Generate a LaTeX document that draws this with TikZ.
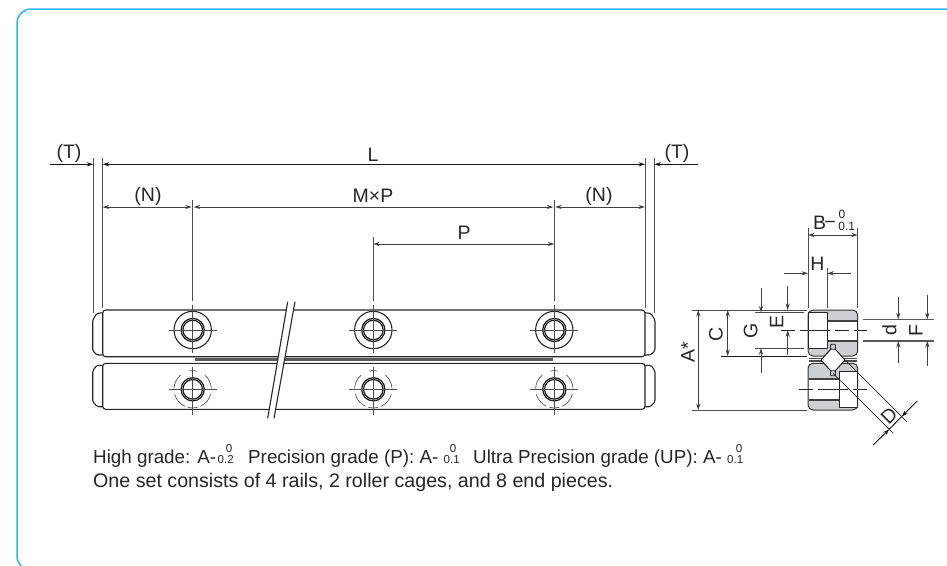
\documentclass[tikz,border=0pt]{standalone}
\usepackage{fontspec}
\setmainfont{Liberation Sans}
\usetikzlibrary{arrows.meta}
\definecolor{framecyan}{RGB}{41,182,236}
\definecolor{blockgray}{RGB}{205,207,209}
\newcommand{\bigtxt}{\fontsize{19.5}{22}\selectfont}
\newcommand{\smalltxt}{\fontsize{12}{14}\selectfont}
\begin{document}
\begin{tikzpicture}[x=1pt,y=-1pt,font=\bigtxt,line join=round,>={Stealth[length=6.5pt,width=4.2pt]}]
	\tikzset{every node/.style={inner sep=0pt,text=black!85},
		dimline/.style={black!75,line width=0.9pt},
		extline/.style={black!70,line width=0.75pt},
		railline/.style={black!85,line width=1.1pt},
		holeline/.style={black!70,line width=0.65pt},
		centerline/.style={black!85,line width=0.7pt,dash pattern=on 14pt off 5pt on 30pt off 5pt}}
	\useasboundingbox (0,0) rectangle (947,565);
	\begin{scope}
		\clip (0,0) rectangle (947,565);
		\draw[framecyan,line width=1.5pt,rounded corners=14pt] (17,9) rectangle (970,570);
	\end{scope}
	% rails and end pieces
	\draw[railline,rounded corners=3pt] (102.7,310) rectangle (645,356.7);
	\draw[railline,rounded corners=3pt] (102.7,363.3) rectangle (645,409.3);
	\draw[black!65,line width=2.6pt] (195,359.7)--(552.7,359.7);
	\foreach \ex/\sx in {102.7/-1,645/1}{
		\draw[railline,rounded corners=1.5pt] (\ex,312.7)--({\ex+\sx*6},313.5)--({\ex+\sx*10},320)--({\ex+\sx*10},350.7)--({\ex+\sx*5.4},355)--(\ex,355);
		\draw[railline,rounded corners=1.5pt] (\ex,365.3)--({\ex+\sx*6},365.3)--({\ex+\sx*10},371)--({\ex+\sx*10},401.7)--({\ex+\sx*5.4},406.7)--(\ex,406.7);
	}
	% mounting holes
	\foreach \hx in {192.7,373.3,554.3}{
		\draw[railline] (\hx,330) circle (18.7);
		\draw[black!90,line width=1.2pt] (\hx,330) circle (11.6);
		\draw[black!90,line width=1.2pt] (\hx,330) circle (9.8);
		\draw[holeline] (\hx-24,330)--(\hx+24,330);
		\draw[holeline] (\hx,305)--(\hx,352.7);
		\draw[black!90,line width=1.2pt] (\hx,389.3) circle (11.6);
		\draw[black!90,line width=1.2pt] (\hx,389.3) circle (9.8);
		\draw[holeline] (\hx-24,389.3)--(\hx+24,389.3);
		\draw[holeline] (\hx,367)--(\hx,415);
		\foreach \a/\b in {-102/-78,-178/-130,-50/-2,-245/-195,-285/-255,-345/-295}
		\draw[holeline] (\hx,389.3) ++(\a:18.7) arc[start angle=\a,end angle=\b,radius=18.7];
	}
	% break in the rails
	\fill[white] (287.7,301.7)--(295,301.7)--(274,418.3)--(267.7,418.3)--cycle;
	\draw[railline] (287.7,301.7)--(267.7,418.3);
	\draw[railline] (295,301.7)--(274,418.3);
	% length dimensions
	\foreach \x/\ya/\yb in {93.3/158/313,102.7/158/308,645/158/308,654.3/158/313,192.7/200/300.7,554.3/200/300.7,373.3/237.3/300.7}
	\draw[extline] (\x,\ya)--(\x,\yb);
	\draw[dimline,black!90,<->] (102.7,164.3)--(645,164.3);
	\draw[dimline,black!90,->] (50,164.3)--(93.3,164.3);
	\draw[dimline,black!90,->] (698,164.3)--(654.3,164.3);
	\draw[dimline,<->] (102.7,207)--(191.7,207);
	\draw[dimline,<->] (193.7,207)--(553.3,207);
	\draw[dimline,<->] (555.3,207)--(645,207);
	\draw[dimline,<->] (373.3,244)--(554.3,244);
	\node (lblTa) at (69,153) {(T)};
	\node (lblL) at (373,155) {L};
	\node (lblTb) at (677,153) {(T)};
	\node (lblNa) at (148,196) {(N)};
	\node (lblMP) at (373,196) {M×P};
	\node (lblNb) at (599,196) {(N)};
	\node (lblP) at (464,233) {P};
	% cross section
	\draw[black!80,line width=1pt,fill=blockgray,rounded corners=5pt] (808,310) rectangle (857.7,356);
	\draw[black!80,line width=1pt,fill=blockgray,rounded corners=5pt] (808,363.3) rectangle (857.7,410);
	\fill[white] (827.3,320.5) rectangle (857.2,340.5);
	\fill[white] (808.5,378.7) rectangle (839,400);
	\draw[black!75,line width=2pt] (827.3,320.5)--(857.2,320.5) (827.3,340.5)--(857.2,340.5);
	\draw[black!75,line width=2pt] (808.5,378.7)--(839,378.7) (808.5,400)--(839,400);
	\draw[black!85,line width=0.9pt,fill=white] (808.7,312.7) rectangle (827.3,348.3);
	\draw[black!85,line width=0.9pt,fill=white] (839,371.7) rectangle (857.3,407.3);
	\draw[black!70,line width=1.3pt] (809,358.2)--(857,358.2) (809,361)--(857,361);
	\draw[black!90,line width=1pt,fill=white] (833,346.7)--(845,360)--(833,373.3)--(821,360)--cycle;
	\foreach \ry in {346.7,373.3}
	\draw[black!85,line width=0.8pt,fill=blockgray,rounded corners=1pt] (830.5,\ry-2.5) rectangle (835.5,\ry+2.5);
	\draw[centerline] (781,330.3)--(866.7,330.3);
	\draw[centerline] (799,389.3)--(866.7,389.3);
	% cross section extension lines
	\draw[extline] (691.7,310)--(806.5,310);
	\draw[extline] (691.7,410)--(806.5,410);
	\draw[black!90,line width=0.8pt] (721,356)--(806.5,356);
	\draw[extline] (755,312.5)--(804,312.5);
	\draw[extline] (755,348.3)--(804,348.3);
	\draw[black!65,line width=1.2pt] (862.7,319.3)--(934,319.3);
	\draw[black!65,line width=1.2pt] (862.7,341)--(934,341);
	\draw[extline] (808,228)--(808,308);
	\draw[extline] (857.7,228)--(857.7,308);
	\draw[extline] (827.3,268)--(827.3,307.7);
	% cross section dimensions
	\draw[dimline,<->] (808,235)--(857.7,235);
	\draw[dimline,->] (784,273.3)--(808,273.3);
	\draw[dimline,->] (851,273.3)--(827.3,273.3);
	\draw[dimline,<->] (698.3,310)--(698.3,410);
	\draw[dimline,<->] (727.7,310)--(727.7,356);
	\foreach \x/\ya/\ta/\tb/\yb in {761/288.3/312.5/348.3/372.7,787.7/286/310/330.3/355,898.3/296.7/319.3/341/363.3,927.3/295/319.3/341/365.7}{
		\draw[dimline,->] (\x,\ya)--(\x,\ta);
		\draw[dimline,->] (\x,\yb)--(\x,\tb);
	}
	\draw[black!85,line width=0.7pt] (833,373.3)--(893.3,433.3);
	\draw[black!85,line width=0.7pt] (845,360)--(906.7,421.7);
	\coordinate (Da) at (889.2,429.2);
	\coordinate (Db) at (901.7,416.6);
	\draw[dimline,black!90,->] (873.3,445)--(Da);
	\draw[dimline,black!90,->] (917.3,401)--(Db);
	\draw[dimline,black!90] (Da)--(Db);
	\node[rotate=90] (lblA) at (688,352) {A*};
	\node[rotate=90] (lblC) at (716,334) {C};
	\node[rotate=90] (lblG) at (750.7,330.7) {G};
	\node[rotate=90] (lblE) at (776.7,321.7) {E};
	\node[rotate=90] (lbld) at (889.3,330) {d};
	\node[rotate=90] (lblF) at (916,330.7) {F};
	\node[rotate=45] (lblD) at (889,416) {D};
	\node (lblH) at (817.3,263.3) {H};
	\node (lblB) at (819.7,223) {B};
	\node (lblBm) at (830,225) {−};
	\node[font=\smalltxt] (lblBa) at (842,214.5) {0};
	\node[font=\smalltxt] (lblBb) at (846.8,226) {0.1};
	% notes below
	\tikzset{note/.style={anchor=base west,font=\fontsize{18.8}{22}\selectfont},
		notesmall/.style={anchor=base west,font=\fontsize{11.5}{14}\selectfont}}
	\node[note] (noteHigh) at (93,463) {High grade: A-};
	\node[notesmall] (noteHighb) at (217.5,463.3) {0.2};
	\node[notesmall] (noteHigha) at (225.7,452) {0};
	\node[note] (notePrec) at (248,463) {Precision grade (P): A-};
	\node[notesmall] (notePrecb) at (443.5,463.3) {0.1};
	\node[notesmall] (notePreca) at (449.7,452) {0};
	\node[note] (noteUltra) at (473,463) {Ultra Precision grade (UP): A-};
	\node[notesmall] (noteUltrab) at (727,463.3) {0.1};
	\node[notesmall] (noteUltraa) at (735.7,452) {0};
	\node[note,font=\fontsize{19.65}{22}\selectfont] (noteSet) at (93,487.5) {One set consists of 4 rails, 2 roller cages, and 8 end pieces.};
\end{tikzpicture}
\end{document}
